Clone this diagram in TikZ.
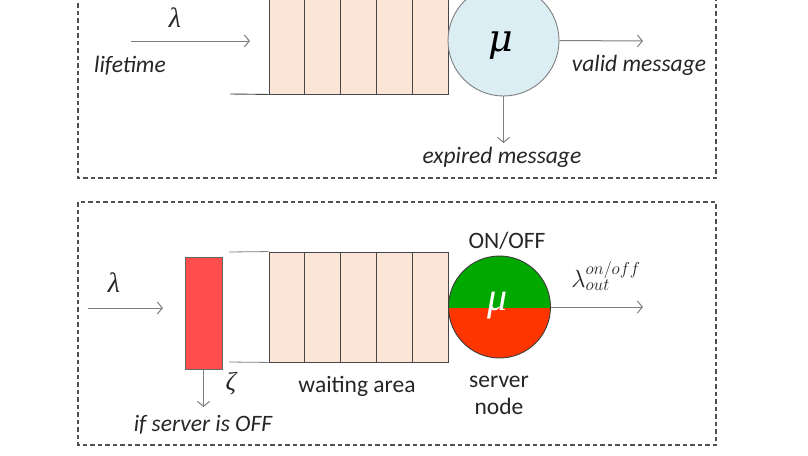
\documentclass[tikz,border=0pt]{standalone}
\usepackage{fontspec}
\setmainfont{Carlito}
\newfontfamily\greekfont{DejaVu Serif}
\newfontfamily\greeklight{Liberation Serif}
\usetikzlibrary{arrows.meta}
\definecolor{peach}{HTML}{FBE5D6}
\definecolor{lblue}{HTML}{DAEEF3}
\definecolor{ongreen}{HTML}{00A800}
\definecolor{offred}{HTML}{FF3500}
\definecolor{droprect}{HTML}{FF4C4C}
\definecolor{linegray}{HTML}{7F7F7F}
\definecolor{txt}{HTML}{262626}
\begin{document}
\begin{tikzpicture}[x=1pt,y=-1pt,
  frame/.style={draw=txt!80, line width=1.3pt, dash pattern=on 4.5pt off 3pt},
  cell/.style={draw=txt!85, fill=peach, line width=0.9pt, inner sep=0pt, minimum width=35.8pt},
  arr/.style={draw=linegray, line width=1pt, -{Straight Barb[length=5pt,width=12pt]}},
  lbl/.style={font=\itshape\fontsize{23.5}{26}\selectfont, text=txt, inner sep=0pt},
  plain/.style={font=\fontsize{23.5}{26}\selectfont, text=txt, inner sep=0pt},
  sym/.style={font=\greeklight\itshape\fontsize{28}{30}\selectfont, text=txt, inner sep=0pt},
  mutext/.style={inner sep=0pt}]
\useasboundingbox (0,0) rectangle (808,455);
\clip (0,0) rectangle (808,455);
\fill[white] (0,0) rectangle (808,455);

% ---------- top panel ----------
\draw[frame] (78,-12) rectangle (716,178);
\foreach \i in {1,...,5}{
  \node[cell, minimum height=124pt] (q\i) at ({269+35.8*(\i-0.5)},32) {};
}
\coordinate (tbl) at (230,94);
\draw[txt!85, line width=0.9pt] (tbl) -- (q1.south west);
\node[circle, draw=linegray, line width=0.9pt, fill=lblue, minimum size=111pt, inner sep=0pt] (s1) at (503.5,40.5) {};
\node[mutext, font=\greekfont\itshape\fontsize{38}{40}\selectfont, text=black] (mu1) at (501,46) {μ};
\coordinate (in1) at (131,41);
\coordinate (in1e) at (250,41);
\draw[arr] (in1) -- (in1e);
\node[sym] (lam1) at (175,18) {λ};
\node[lbl] (life) at (130,66) {lifetime};
\coordinate (out1) at (643,41);
\draw[arr] (s1.east) -- (out1);
\node[lbl] (valid) at (639,65) {valid message};
\coordinate (exp1) at (503.5,143);
\draw[arr] (s1.south) -- (exp1);
\node[lbl] (expired) at (502,157) {expired message};

% ---------- bottom panel ----------
\draw[frame] (78,202) rectangle (716,445);
\foreach \i in {1,...,5}{
  \node[cell, minimum height=110pt] (w\i) at ({269+35.8*(\i-0.5)},307) {};
}
\coordinate (btl) at (229,252);
\coordinate (bbl) at (229,362);
\draw[linegray, line width=0.8pt] (btl) -- (w1.north west);
\draw[linegray, line width=0.8pt] (bbl) -- (w1.south west);
\node[draw=txt!70, line width=0.7pt, fill=droprect, minimum width=37pt, minimum height=112pt, inner sep=0pt] (drop) at (203.5,313) {};
\coordinate (in2) at (88,308);
\coordinate (in2e) at (163,308);
\draw[arr] (in2) -- (in2e);
\node[sym] (lam2) at (114,283) {λ};
\coordinate (zend) at (203.5,407);
\draw[arr] (drop.south) -- (zend);
\node[sym, font=\greeklight\itshape\fontsize{26}{28}\selectfont] (zeta) at (231,384) {ζ};
\node[lbl] (ifoff) at (203,425) {if server is OFF};
\node[plain] (wait) at (357,386) {waiting area};
\node[circle, draw=txt!90, line width=0.9pt, minimum size=102pt, inner sep=0pt,
      path picture={
        \fill[ongreen] (path picture bounding box.north west) rectangle ([yshift=-1pt]path picture bounding box.east);
        \fill[offred] ([yshift=-1pt]path picture bounding box.west) rectangle (path picture bounding box.south east);
      }] (s2) at (499.5,307) {};
\node[mutext, text=white, font=\greeklight\itshape\fontsize{40}{42}\selectfont] (mu2) at (498,306) {μ};
\node[plain] (onoff) at (507,241) {ON/OFF};
\node[plain, align=center, font=\fontsize{23.5}{27}\selectfont] (srvlbl) at (499,395) {server\\node};
\coordinate (out2) at (643,307);
\draw[arr] (s2.east) -- (out2);
\node[sym, font=\fontsize{26}{28}\selectfont] (lamout) at (606,276) {$\lambda_{out}^{on/off}$};
\end{tikzpicture}
\end{document}
